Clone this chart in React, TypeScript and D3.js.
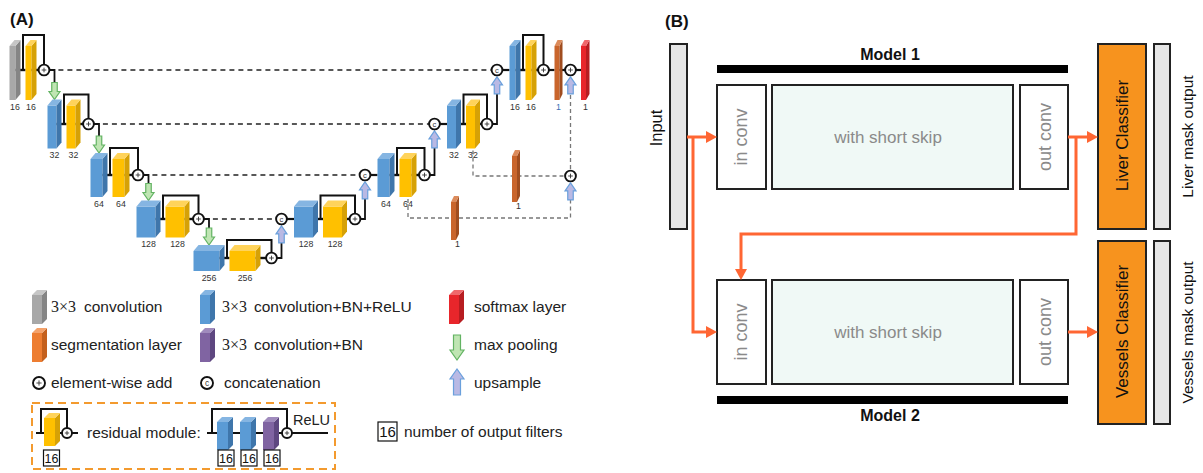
import React from "react";
import * as d3 from "d3";

// ---------------- data ----------------
const encoderFilters = ["16", "32", "64", "128", "256"];
const decoderFilters = ["16", "32", "64", "128"];
const headFilters = ["1", "1"];
const deepSupFilters = ["1", "1"];
const residualFilters = ["16", "16", "16"];

const legendCol1 = [
  { kind: "box", pal: "gray", serif: "3×3", label: "convolution" },
  { kind: "box", pal: "segLegend", serif: "", label: "segmentation layer" },
  { kind: "op", sym: "+", serif: "", label: "element-wise add" },
];
const legendCol2 = [
  { kind: "box", pal: "blue", serif: "3×3", label: "convolution+BN+ReLU" },
  { kind: "box", pal: "purple", serif: "3×3", label: "convolution+BN" },
  { kind: "op", sym: "c", serif: "", label: "concatenation" },
];
const legendCol3 = [
  { kind: "box", pal: "red", serif: "", label: "softmax layer" },
  { kind: "down", serif: "", label: "max pooling" },
  { kind: "up", serif: "", label: "upsample" },
];
const residualLabel = "residual module:";
const reluLabel = "ReLU";
const filtersNote = "number of output filters";

const modelLabels = ["Model 1", "Model 2"];
const classifierLabels = ["Liver Classifier", "Vessels Classifier"];
const maskOutputLabels = ["Liver mask output", "Vessels mask output"];
const inputLabel = "Input";
const inConvLabel = "in conv";
const skipLabel = "with short skip";
const outConvLabel = "out conv";

// ---------------- layout ----------------
const levelY = [70, 124, 175, 219, 258];
const blockW = [6, 9, 12, 19, 26];
const blockH = [54, 43, 38, 31, 20];
const encCircleGap = [7.5, 8, 8.5, 9, 11];
const decCircleGap = [7, 7, 8, 8];
const DX = 5;
const DY = 6;
const R = 5.4;
const ARROW_LEN = 17;
const deepSegX = [451, 512];
const deepSegH = [38, 46];
const legendColX = [32, 200, 449];
const legendTextDx = [19, 22, 25];
const legendSansDx = [52, 54, 54];
const legendOpTextDx = [19, 24, 25];

const FONT = "'Liberation Sans', Arial, Helvetica, sans-serif";
const SERIF = "'Liberation Serif', 'Times New Roman', serif";

const PAL: Record<string, string[]> = {
  gray: ["#a8a8a8", "#858585", "#c6c6c6"],
  blue: ["#5b9bd5", "#3f76ab", "#85b5e2"],
  yellow: ["#ffc000", "#d6a106", "#ffd35a"],
  seg: ["#c9652c", "#a04d1f", "#dc8b5b"],
  segLegend: ["#ed7d31", "#c4601d", "#f4a26b"],
  red: ["#e8262b", "#b71d21", "#f0686b"],
  purple: ["#8064a2", "#5e4780", "#a08bbd"],
};
const ORANGE = "#ff6633";

// ---------------- geometry ----------------
type Lvl = { yc: number; w: number; h: number; fy: number; bx: number; yx: number; cx: number; ax: number; ccx: number };
const enc: Lvl[] = [];
{
  let bx = 9.5;
  for (let i = 0; i < 5; i++) {
    const w = blockW[i], h = blockH[i], yc = levelY[i];
    const fy = yc - h / 2 + 3;
    const yx = bx + w + DX + 5;
    const cx = yx + w + DX + encCircleGap[i];
    const ax = cx + 10.5;
    enc.push({ yc, w, h, fy, bx, yx, cx, ax, ccx: 0 });
    if (i < 4) bx = ax - (blockW[i + 1] + DX) / 2;
  }
}
const dec: Lvl[] = [];
{
  let ccx = enc[4].cx + 10;
  for (let i = 3; i >= 0; i--) {
    const w = blockW[i], h = blockH[i], yc = levelY[i];
    const fy = yc - h / 2 + 3;
    const bx = ccx + 12.5;
    const yx = bx + w + DX + 5;
    const cx = yx + w + DX + decCircleGap[i];
    dec[i] = { yc, w, h, fy, bx, yx, cx, ax: cx + 10, ccx };
    ccx = cx + 10;
  }
}
const segX = dec[0].cx + 11;
const c2x = segX + 5 + 3 + 8;
const redX = c2x + 10.5;
const deepY = levelY[2] + 1;

const line = d3.line<[number, number]>();

function arrowPath(x: number, y0: number, y1: number, shaftW = 5.5, headW = 11, headL = 8) {
  const dir = Math.sign(y1 - y0);
  const yh = y1 - dir * headL;
  const p = d3.path();
  p.moveTo(x - shaftW / 2, y0);
  p.lineTo(x - shaftW / 2, yh);
  p.lineTo(x - headW / 2, yh);
  p.lineTo(x, y1);
  p.lineTo(x + headW / 2, yh);
  p.lineTo(x + shaftW / 2, yh);
  p.lineTo(x + shaftW / 2, y0);
  p.closePath();
  return p.toString();
}

function Box({ x, y, w, h, pal, dx = DX, dy = DY }: any) {
  const c = PAL[pal];
  return (
    <g>
      <rect x={x} y={y} width={w} height={h} fill={c[0]} />
      <path d={`M${x + w},${y}L${x + w + dx},${y - dy}L${x + w + dx},${y + h - dy}L${x + w},${y + h}Z`} fill={c[1]} />
      <path d={`M${x},${y}L${x + dx},${y - dy}L${x + w + dx},${y - dy}L${x + w},${y}Z`} fill={c[2]} />
    </g>
  );
}

function Op({ cx, cy, sym, r = R }: any) {
  const s = r * 0.43;
  return (
    <g>
      <circle cx={cx} cy={cy} r={r} fill="#fff" stroke="#111" strokeWidth={1.9} />
      {sym === "+" ? (
        <path d={`M${cx - s},${cy}H${cx + s}M${cx},${cy - s}V${cy + s}`} stroke="#333" strokeWidth={0.9} />
      ) : (
        <text x={cx} y={cy + 0.3} fontSize={r * 1.4} fontFamily={FONT} textAnchor="middle" dominantBaseline="central" fill="#333">c</text>
      )}
    </g>
  );
}

function DownArrow({ x, y0, y1, big = false }: any) {
  return (
    <path
      d={big ? arrowPath(x, y0, y1, 7, 14, 10) : arrowPath(x, y0, y1)}
      fill="#bfe5b3"
      stroke="#63b363"
      strokeWidth={1.2}
    />
  );
}
function UpArrow({ x, y0, y1, big = false }: any) {
  return (
    <path
      d={big ? arrowPath(x, y0, y1, 7, 14, 10) : arrowPath(x, y0, y1)}
      fill="#b9b9e4"
      stroke="#6aa0dc"
      strokeWidth={1.2}
    />
  );
}

function FilterLabel({ x, y, t, color = "#333" }: any) {
  return (
    <text x={x} y={y} fontSize={8.8} fontFamily={FONT} textAnchor="middle" fill={color}>{t}</text>
  );
}

function ResStage({ L, first, label, firstLabel, isDec }: any) {
  const j = (L.bx + L.w + DX + L.yx) / 2;
  const top = L.fy - DY - 5;
  const labY = L.fy + L.h + 9.5;
  return (
    <g>
      {isDec && <path d={line([[L.ccx + R, L.yc], [L.bx, L.yc]])!} stroke="#111" strokeWidth={2.2} fill="none" />}
      <path d={line([[L.bx + L.w, L.yc], [L.yx, L.yc]])!} stroke="#111" strokeWidth={2.4} fill="none" />
      <path d={line([[L.yx + L.w, L.yc], [L.cx - R, L.yc]])!} stroke="#111" strokeWidth={2.4} fill="none" />
      <path d={line([[j, L.yc], [j, top], [L.cx, top], [L.cx, L.yc - R]])!} stroke="#111" strokeWidth={2} fill="none" />
      <Box x={L.bx} y={L.fy} w={L.w} h={L.h} pal={first} />
      <Box x={L.yx} y={L.fy} w={L.w} h={L.h} pal="yellow" />
      <Op cx={L.cx} cy={L.yc} sym="+" />
      <FilterLabel x={L.bx + L.w / 2 + DX / 2} y={labY} t={firstLabel} />
      <FilterLabel x={L.yx + L.w / 2 + DX / 2} y={labY} t={label} />
    </g>
  );
}

function PanelA() {
  const rowY = d3.scalePoint<number>().domain([0, 1, 2]).range([312, 388]);
  const renderLegend = (items: any[], ci: number) =>
    items.map((it, k) => {
      const by = rowY(k)!;
      const x0 = legendColX[ci];
      return (
        <g key={`${ci}-${k}`}>
          {it.kind === "box" && <Box x={x0} y={by - 17} w={10} h={29} pal={it.pal} dx={5} dy={5} />}
          {it.kind === "op" && <Op cx={x0 + 7} cy={by - 5} sym={it.sym} r={6} />}
          {it.kind === "down" && <DownArrow x={x0 + 8} y0={by - 15} y1={by + 10} big />}
          {it.kind === "up" && <UpArrow x={x0 + 8} y0={by + 7} y1={by - 19} big />}
          {it.serif ? (
            <>
              <text x={x0 + legendTextDx[ci]} y={by} fontFamily={SERIF} fontSize={16} fill="#222">{it.serif}</text>
              <text x={x0 + legendSansDx[ci]} y={by} fontFamily={FONT} fontSize={15.5} fill="#222">{it.label}</text>
            </>
          ) : (
            <text x={x0 + (it.kind === "op" ? legendOpTextDx[ci] : legendTextDx[ci])} y={by} fontFamily={FONT} fontSize={15.5} fill="#222">{it.label}</text>
          )}
        </g>
      );
    });

  const resY = 433;
  const resBlocks = [217, 240, 263];
  const resPals = ["blue", "blue", "purple"];

  return (
    <g>
      <text x={10} y={25} fontFamily={FONT} fontWeight="bold" fontSize={17} fill="#111">(A)</text>

      {[0, 1, 2, 3].map((i) => (
        <path key={`sk${i}`} d={line([[enc[i].cx + R, levelY[i]], [dec[i].ccx - R, levelY[i]]])!} stroke="#222" strokeWidth={1.3} strokeDasharray="5,4" fill="none" />
      ))}

      <g stroke="#777" strokeWidth={1.3} strokeDasharray="4,3" fill="none">
        <path d={line([[c2x, levelY[0] + R + 1.5 + ARROW_LEN + 1], [c2x, deepY - R]])!} />
        <path d={line([[dec[1].yx + (dec[1].w + DX) / 2, dec[1].fy + dec[1].h + 2], [dec[1].yx + (dec[1].w + DX) / 2, deepY], [c2x - R, deepY]])!} />
        <path d={line([[dec[2].yx + (dec[2].w + DX) / 2, dec[2].fy + dec[2].h + 2], [dec[2].yx + (dec[2].w + DX) / 2, levelY[3] - 1], [c2x, levelY[3] - 1], [c2x, deepY + R + 1.5 + ARROW_LEN]])!} />
      </g>

      {[0, 1, 2, 3].map((i) => {
        const tip = enc[i + 1].fy - DY;
        return (
          <g key={`dn${i}`}>
            <path d={line([[enc[i].cx + R, enc[i].yc], [enc[i].ax, enc[i].yc], [enc[i].ax, tip - ARROW_LEN]])!} stroke="#111" strokeWidth={1.8} fill="none" />
            <DownArrow x={enc[i].ax} y0={tip - ARROW_LEN} y1={tip} />
          </g>
        );
      })}
      {[0, 1, 2, 3].map((i) => {
        const below = i === 3 ? enc[4] : dec[i + 1];
        const tip = levelY[i] + R + 1.5;
        const x = dec[i].ccx;
        return (
          <g key={`up${i}`}>
            <path d={line([[below.cx + R, below.yc], [x, below.yc], [x, tip + ARROW_LEN]])!} stroke="#111" strokeWidth={1.8} fill="none" />
            <UpArrow x={x} y0={tip + ARROW_LEN} y1={tip} />
          </g>
        );
      })}

      {enc.map((L, i) => (
        <ResStage key={`e${i}`} L={L} first={i === 0 ? "gray" : "blue"} label={encoderFilters[i]} firstLabel={encoderFilters[i]} isDec={false} />
      ))}
      {dec.map((L, i) => (
        <g key={`d${i}`}>
          <ResStage L={L} first="blue" label={decoderFilters[i]} firstLabel={decoderFilters[i]} isDec />
          <Op cx={L.ccx} cy={L.yc} sym="c" />
        </g>
      ))}

      <path d={line([[dec[0].cx + R, levelY[0]], [segX, levelY[0]]])!} stroke="#111" strokeWidth={2.2} />
      <path d={line([[segX + 5, levelY[0]], [c2x - R, levelY[0]]])!} stroke="#111" strokeWidth={2.2} />
      <path d={line([[c2x + R, levelY[0]], [redX, levelY[0]]])!} stroke="#111" strokeWidth={2.2} />
      <Box x={segX} y={dec[0].fy} w={5} h={dec[0].h} pal="seg" dx={3} dy={6} />
      <Box x={redX} y={dec[0].fy} w={5} h={dec[0].h} pal="red" dx={3.5} dy={6} />
      <Op cx={c2x} cy={levelY[0]} sym="+" />
      <UpArrow x={c2x} y0={levelY[0] + R + 1.5 + ARROW_LEN} y1={levelY[0] + R + 1.5} />
      <FilterLabel x={segX + 4} y={dec[0].fy + dec[0].h + 9.5} t={headFilters[0]} color="#3b6fb6" />
      <FilterLabel x={redX + 4.5} y={dec[0].fy + dec[0].h + 9.5} t={headFilters[1]} />

      {[levelY[3] - 1, deepY].map((ly, k) => {
        const h = deepSegH[k];
        const fy = ly - h / 2 + 3;
        return (
          <g key={`ds${k}`}>
            <Box x={deepSegX[k]} y={fy} w={5} h={h} pal="seg" dx={3} dy={6} />
            <FilterLabel x={deepSegX[k] + 6.5} y={fy + h + 7} t={deepSupFilters[k]} />
          </g>
        );
      })}
      <Op cx={c2x} cy={deepY} sym="+" />
      <UpArrow x={c2x} y0={deepY + R + 1.5 + ARROW_LEN} y1={deepY + R + 1.5} />

      {renderLegend(legendCol1, 0)}
      {renderLegend(legendCol2, 1)}
      {renderLegend(legendCol3, 2)}

      <rect x={32} y={403} width={303} height={66} fill="none" stroke="#f39a2e" strokeWidth={2} strokeDasharray="8,5" />
      <path d={line([[36, resY], [44, resY]])!} stroke="#111" strokeWidth={2} />
      <path d={line([[56, resY], [62, resY]])!} stroke="#111" strokeWidth={2} />
      <path d={line([[72, resY], [78, resY]])!} stroke="#111" strokeWidth={2} />
      <path d={line([[41, resY], [41, 409], [67, 409], [67, resY - 5]])!} stroke="#111" strokeWidth={2} fill="none" />
      <Box x={44} y={418} w={11} h={28} pal="yellow" dx={5} dy={5} />
      <Op cx={67} cy={resY} sym="+" r={5} />
      <rect x={43.5} y={450} width={16} height={16} fill="#fff" stroke="#111" strokeWidth={1.2} />
      <text x={51.5} y={463} fontFamily={FONT} fontSize={12.5} textAnchor="middle" fill="#111">{residualFilters[0]}</text>
      <text x={87} y={438} fontFamily={FONT} fontSize={15.5} fill="#222">{residualLabel}</text>

      <path d={line([[207, resY], [282, resY]])!} stroke="#111" strokeWidth={2} />
      <path d={line([[292, resY], [328, resY]])!} stroke="#111" strokeWidth={2} />
      <path d={line([[212, resY], [212, 409], [287, 409], [287, resY - 5]])!} stroke="#111" strokeWidth={2} fill="none" />
      {resBlocks.map((x, k) => (
        <g key={`rb${k}`}>
          <Box x={x} y={422} w={11} h={28} pal={resPals[k]} dx={5} dy={5} />
          <rect x={x + 1} y={450} width={16} height={16} fill="#fff" stroke="#111" strokeWidth={1.2} />
          <text x={x + 9} y={463} fontFamily={FONT} fontSize={12.5} textAnchor="middle" fill="#111">{residualFilters[k]}</text>
        </g>
      ))}
      <Op cx={287} cy={resY} sym="+" r={5} />
      <text x={293} y={425} fontFamily={FONT} fontSize={14.5} fill="#222">{reluLabel}</text>

      <rect x={378} y={422} width={19} height={19} fill="#fff" stroke="#111" strokeWidth={1.2} />
      <text x={387.5} y={437} fontFamily={FONT} fontSize={15} textAnchor="middle" fill="#111">16</text>
      <text x={404} y={437} fontFamily={FONT} fontSize={15.5} fill="#222">{filtersNote}</text>
    </g>
  );
}

function OrangeArrowHead({ x, y, dir }: any) {
  const L = 11, W = 6;
  const pts = dir === "right" ? `${x},${y} ${x - L},${y - W} ${x - L},${y + W}` : `${x},${y} ${x - W},${y - L} ${x + W},${y - L}`;
  return <polygon points={pts} fill={ORANGE} />;
}

function PanelB() {
  const boxTop = d3.scalePoint<number>().domain([0, 1]).range([85, 280]);
  const barY = [65, 396];
  const titleY = [60, 421];
  const clsY = [44, 241];
  const clsH = [185, 183];
  const midY = [137, 332];
  const boxH = 104;
  const textGray = "#8a8a8a";
  return (
    <g>
      <text x={665} y={27} fontFamily={FONT} fontWeight="bold" fontSize={17} fill="#111">(B)</text>
      <rect x={670} y={44} width={17} height={185} fill="#e6e6e6" stroke="#222" strokeWidth={2} />
      <text transform="translate(656,128) rotate(-90)" fontFamily={FONT} fontSize={16.5} textAnchor="middle" dominantBaseline="central" fill="#111">{inputLabel}</text>

      {[0, 1].map((m) => {
        const y = boxTop(m)!;
        return (
          <g key={`m${m}`}>
            <rect x={717} y={barY[m]} width={351} height={8} fill="#000" />
            <text x={890} y={titleY[m]} fontFamily={FONT} fontWeight="bold" fontSize={16} textAnchor="middle" fill="#111">{modelLabels[m]}</text>
            <rect x={717} y={y} width={49} height={boxH} fill="#fff" stroke="#222" strokeWidth={2} />
            <rect x={772} y={y} width={241} height={boxH} fill="#f0f9f6" stroke="#222" strokeWidth={2} />
            <rect x={1020} y={y} width={48} height={boxH} fill="#fff" stroke="#222" strokeWidth={2} />
            <text transform={`translate(741,${midY[m]}) rotate(-90)`} fontFamily={FONT} fontSize={18} textAnchor="middle" dominantBaseline="central" fill={textGray}>{inConvLabel}</text>
            <text transform={`translate(1045,${midY[m]}) rotate(-90)`} fontFamily={FONT} fontSize={18} textAnchor="middle" dominantBaseline="central" fill={textGray}>{outConvLabel}</text>
            <text x={888} y={midY[m]} fontFamily={FONT} fontSize={17} textAnchor="middle" dominantBaseline="central" fill={textGray}>{skipLabel}</text>
            <rect x={1098} y={clsY[m]} width={48} height={clsH[m]} fill="#f7931e" stroke="#222" strokeWidth={2} />
            <text transform={`translate(1122,${clsY[m] + clsH[m] / 2 - 1}) rotate(-90)`} fontFamily={FONT} fontSize={17} textAnchor="middle" dominantBaseline="central" fill="#111">{classifierLabels[m]}</text>
            <rect x={1154} y={clsY[m]} width={16} height={clsH[m]} fill="#e6e6e6" stroke="#222" strokeWidth={2} />
            <text transform={`translate(1187,${clsY[m] + clsH[m] / 2}) rotate(-90)`} fontFamily={FONT} fontSize={15.5} textAnchor="middle" dominantBaseline="central" fill="#111">{maskOutputLabels[m]}</text>
            <path d={line([[1068, midY[m]], [1088, midY[m]]])!} stroke={ORANGE} strokeWidth={3} />
            <OrangeArrowHead x={1098} y={midY[m]} dir="right" />
          </g>
        );
      })}

      <path d={line([[687, midY[0]], [707, midY[0]]])!} stroke={ORANGE} strokeWidth={3} fill="none" />
      <OrangeArrowHead x={717} y={midY[0]} dir="right" />
      <path d={line([[693, midY[0]], [693, midY[1]], [707, midY[1]]])!} stroke={ORANGE} strokeWidth={3} fill="none" />
      <OrangeArrowHead x={717} y={midY[1]} dir="right" />
      <path d={line([[1076, midY[0]], [1076, 234], [741, 234], [741, 270]])!} stroke={ORANGE} strokeWidth={3} fill="none" />
      <OrangeArrowHead x={741} y={280} dir="down" />
    </g>
  );
}

export default function App() {
  return (
    <svg width={1203} height={473} style={{ position: "absolute", left: 0, top: 0, background: "#fff" }}>
      <rect width={1203} height={473} fill="#fff" />
      <PanelA />
      <PanelB />
    </svg>
  );
}
